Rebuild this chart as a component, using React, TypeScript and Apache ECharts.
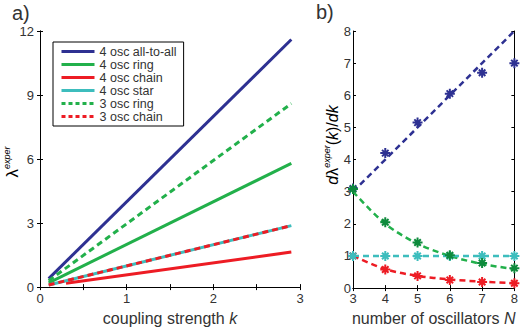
import React, { useEffect, useRef } from "react";
import * as echarts from "echarts";

// ---- Panel a) data: coupling strength k vs lambda^exper (line end points)
const kEnds = [0.1, 2.9];
const chainK = [0.3, 2.9];
const allToAll4 = [0.4, 11.6];
const ring4 = [0.2, 5.8];
const chain4 = [0.18, 1.64];
const star4 = [0.1, 2.88];
const ring3 = [0.3, 8.6];
const chain3 = [0.1, 2.88];
const seriesNamesA = ["4 osc all-to-all", "4 osc ring", "4 osc chain", "4 osc star", "3 osc ring", "3 osc chain"];

// ---- Panel b) data: number of oscillators N vs d lambda / dk
const nValues = [3, 4, 5, 6, 7, 8];
const bluePts = [3.1, 4.2, 5.15, 6.05, 6.7, 7.0];
const greenPts = [3.08, 2.05, 1.42, 1.02, 0.78, 0.62];
const cyanPts = [1.0, 1.0, 1.0, 1.0, 1.0, 1.0];
const redPts = [1.0, 0.58, 0.38, 0.25, 0.19, 0.15];
const blueFit = [3, 4, 5, 6, 7, 8];
const greenFit = [3, 2, 1.38, 1, 0.75, 0.59];
const cyanFit = [1, 1, 1, 1, 1, 1];
const redFit = [1, 0.59, 0.38, 0.27, 0.2, 0.15];

const BLUE = "#2e3192";
const GREEN = "#22b04b";
const DKGREEN = "#0e8a3c";
const RED = "#ed1c24";
const CYAN = "#3dbdbd";
const FONT = "Liberation Sans, Arial, sans-serif";
const TXT = "#333333";

const ASTERISK =
  "path://M8,0H12V20H8Z M0,8H20V12H0Z M4.9,2.1L17.9,15.1L15.1,17.9L2.1,4.9Z M15.1,2.1L17.9,4.9L4.9,17.9L2.1,15.1Z";

const pairs = (xs: number[], ys: number[]) => xs.map((x, i) => [x, ys[i]]);

export default function App() {
  const ref = useRef<HTMLDivElement>(null);
  useEffect(() => {
    if (!ref.current) return;
    const chart = echarts.init(ref.current, undefined, { renderer: "svg" });
    const axisLine = { show: true, lineStyle: { color: "#000", width: 1 } };
    const tick = { show: true, inside: true, length: 3, lineStyle: { color: "#000", width: 1 } };
    const lbl = { color: TXT, fontFamily: FONT, fontSize: 13 };
    const lineA = (name: string, xs: number[], ys: number[], color: string, dotted: boolean) => ({
      name,
      type: "line",
      xAxisIndex: 0,
      yAxisIndex: 0,
      data: pairs(xs, ys),
      symbol: "none",
      lineStyle: { color, width: 3, type: dotted ? [6, 4] : "solid", cap: "butt" },
      itemStyle: { color },
      z: 3,
    });
    const fitB = (ys: number[], color: string, smooth: number | boolean) => ({
      type: "line",
      xAxisIndex: 2,
      yAxisIndex: 2,
      data: pairs(nValues, ys),
      symbol: "none",
      smooth,
      lineStyle: { color, width: 2.5, type: [6, 4] },
      z: 3,
    });
    const ptsB = (ys: number[], color: string) => ({
      type: "scatter",
      xAxisIndex: 2,
      yAxisIndex: 2,
      data: pairs(nValues, ys),
      symbol: ASTERISK,
      symbolSize: 10,
      itemStyle: { color, opacity: 1 },
      z: 4,
      clip: false,
    });
    const legendColors = [BLUE, GREEN, RED, CYAN, GREEN, RED];
    chart.setOption({
      animation: false,
      backgroundColor: "#fff",
      grid: [
        { left: 40, top: 31, width: 260, height: 263 },
        { left: 353, top: 31, width: 166, height: 266 },
      ],
      xAxis: [
        {
          type: "value", gridIndex: 0, min: 0, max: 3, interval: 0.5, position: "bottom",
          axisLine, axisTick: tick, splitLine: { show: false },
          axisLabel: { ...lbl, margin: 5, formatter: (v: number) => (Number.isInteger(v) ? String(v) : "") },
          name: "coupling strength {i|k}", nameLocation: "middle", nameGap: 16,
          nameTextStyle: { color: TXT, fontFamily: FONT, fontSize: 16, verticalAlign: "top",
            rich: { i: { fontStyle: "italic", fontFamily: FONT, fontSize: 16, color: TXT } } },
        },
        {
          type: "value", gridIndex: 0, min: 0, max: 3, interval: 0.5, position: "top",
          axisLine, axisTick: tick, axisLabel: { show: false }, splitLine: { show: false },
        },
        {
          type: "value", gridIndex: 1, min: 3, max: 8, interval: 1, position: "bottom",
          axisLine, axisTick: tick, splitLine: { show: false },
          axisLabel: { ...lbl, margin: 4 },
          name: "number of oscillators {i|N}", nameLocation: "middle", nameGap: 13,
          nameTextStyle: { color: TXT, fontFamily: FONT, fontSize: 16, verticalAlign: "top",
            rich: { i: { fontStyle: "italic", fontFamily: FONT, fontSize: 16, color: TXT } } },
        },
        {
          type: "value", gridIndex: 1, min: 3, max: 8, interval: 1, position: "top",
          axisLine, axisTick: tick, axisLabel: { show: false }, splitLine: { show: false },
        },
      ],
      yAxis: [
        {
          type: "value", gridIndex: 0, min: 0, max: 12, interval: 3, position: "left",
          axisLine, axisTick: tick, splitLine: { show: false }, axisLabel: { ...lbl, margin: 6 },
        },
        {
          type: "value", gridIndex: 0, min: 0, max: 12, interval: 3, position: "right",
          axisLine, axisTick: tick, splitLine: { show: false }, axisLabel: { show: false },
        },
        {
          type: "value", gridIndex: 1, min: 0, max: 8, interval: 1, position: "left",
          axisLine, axisTick: tick, splitLine: { show: false }, axisLabel: { ...lbl, margin: 2 },
        },
        {
          type: "value", gridIndex: 1, min: 0, max: 8, interval: 1, position: "right",
          axisLine, axisTick: tick, splitLine: { show: false }, axisLabel: { show: false },
        },
      ],
      legend: {
        left: 53, top: 42, orient: "vertical",
        padding: [3, 7, 3, 7],
        backgroundColor: "#fff", borderColor: "#000", borderWidth: 1,
        itemWidth: 33, itemHeight: 3, itemGap: 0,
        itemStyle: { opacity: 0 },
        textStyle: { color: TXT, fontFamily: FONT, fontSize: 12.5, lineHeight: 12.6, padding: [0, 0, 0, 0] },
        data: seriesNamesA.map((n, i) => ({
          name: n,
          itemStyle: { opacity: 0 },
          lineStyle: { width: 3, color: legendColors[i], type: i >= 4 ? [4, 3] : "solid", cap: "butt" },
        })),
      },
      graphic: [
        { type: "text", left: 12, top: 3, style: { text: "a)", font: `20px ${FONT}`, fill: TXT } },
        { type: "text", left: 316, top: 2, style: { text: "b)", font: `20px ${FONT}`, fill: TXT } },
        {
          type: "text", x: 12, y: 162, rotation: Math.PI / 2,
          style: {
            text: "{l|λ}{s|exper}", align: "center", verticalAlign: "middle",
            rich: {
              l: { fontFamily: FONT, fontSize: 17, color: TXT },
              s: { fontFamily: FONT, fontSize: 9, fontStyle: "italic", color: TXT, verticalAlign: "top", padding: [0, 0, 10, 0] },
            },
          },
        },
        {
          type: "text", x: 332, y: 145, rotation: Math.PI / 2,
          style: {
            text: "{i|d}{n|λ}{s|exper}{n|(}{i|k}{n|)/}{i|dk}", align: "center", verticalAlign: "middle",
            rich: {
              i: { fontFamily: FONT, fontSize: 16, fontStyle: "italic", color: TXT },
              n: { fontFamily: FONT, fontSize: 16, color: TXT },
              s: { fontFamily: FONT, fontSize: 9, fontStyle: "italic", color: TXT, verticalAlign: "top", padding: [0, 0, 10, 0] },
            },
          },
        },
      ],
      series: [
        lineA(seriesNamesA[0], kEnds, allToAll4, BLUE, false),
        lineA(seriesNamesA[1], kEnds, ring4, GREEN, false),
        lineA(seriesNamesA[2], chainK, chain4, RED, false),
        lineA(seriesNamesA[3], kEnds, star4, CYAN, false),
        lineA(seriesNamesA[4], kEnds, ring3, GREEN, true),
        lineA(seriesNamesA[5], kEnds, chain3, RED, true),
        fitB(blueFit, BLUE, false),
        fitB(greenFit, GREEN, 0.3),
        fitB(cyanFit, CYAN, false),
        fitB(redFit, RED, 0.3),
        ptsB(bluePts, BLUE),
        ptsB(redPts, RED),
        ptsB(cyanPts, CYAN),
        ptsB(greenPts, DKGREEN),
      ],
    });
    return () => chart.dispose();
  }, []);
  return <div ref={ref} style={{ position: "fixed", left: 0, top: 0, width: 521, height: 331 }} />;
}
